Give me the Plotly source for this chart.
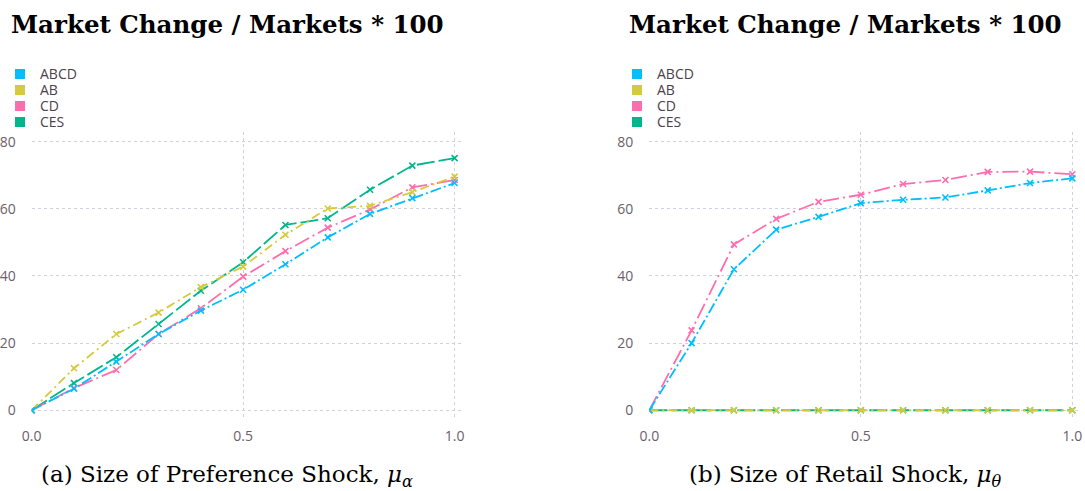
import plotly.graph_objects as go

# ---------------- data ----------------
x_vals = [0.0, 0.1, 0.2, 0.3, 0.4, 0.5, 0.6, 0.7, 0.8, 0.9, 1.0]
series_names = ["ABCD", "AB", "CD", "CES"]

# Panel (a): preference shock
pref_ABCD = [0.0, 6.4, 14.5, 22.7, 29.7, 35.9, 43.5, 51.5, 58.5, 63.2, 67.7]
pref_AB = [0.0, 12.5, 22.7, 29.1, 36.7, 42.8, 52.3, 60.1, 60.9, 65.0, 69.6]
pref_CD = [0.0, 6.6, 12.0, 22.7, 30.4, 39.8, 47.4, 54.4, 59.8, 66.4, 68.6]
pref_CES = [0.0, 8.1, 15.8, 25.7, 35.6, 44.1, 55.2, 57.2, 65.7, 72.9, 75.1]

# Panel (b): retail shock
ret_ABCD = [0.0, 20.0, 42.0, 53.8, 57.6, 61.7, 62.7, 63.4, 65.5, 67.7, 69.1]
ret_AB = [0.0, 0.0, 0.0, 0.0, 0.0, 0.0, 0.0, 0.0, 0.0, 0.0, 0.0]
ret_CD = [0.0, 23.8, 49.4, 57.0, 62.1, 64.2, 67.4, 68.6, 71.0, 71.1, 70.3]
ret_CES = [0.0, 0.0, 0.0, 0.0, 0.0, 0.0, 0.0, 0.0, 0.0, 0.0, 0.0]

y_ticks = [0, 20, 40, 60, 80]
x_ticks = [0.0, 0.5, 1.0]
x_tick_text = ["0.0", "0.5", "1.0"]

panel_title = "Market Change / Markets * 100"
caption_a = "(a) Size of Preference Shock, <i>μ</i><sub><i>α</i></sub>"
caption_b = "(b) Size of Retail Shock, <i>μ</i><sub><i>θ</i></sub>"

# ---------------- styling ----------------
colors = {"ABCD": "#00BFFF", "AB": "#D4CA3A", "CD": "#FF6DAE", "CES": "#00B78D"}
dashes = {
    "ABCD": "11px,3px,2px,3px",
    "AB": "9px,4px,2px,4px",
    "CD": "16px,4px,2px,4px",
    "CES": "18px,4px",
}
GRID = "#D0D0E0"
TICK_COL = "#6C606B"
KEY_COL = "#4C404B"

W, H = 1085, 491


def px_x(sx):
    return sx / W


def px_y(sy):
    return 1 - sy / H


panels = [
    dict(xa="x", ya="y", data={"ABCD": pref_ABCD, "AB": pref_AB, "CD": pref_CD, "CES": pref_CES}),
    dict(xa="x2", ya="y2", data={"ABCD": ret_ABCD, "AB": ret_AB, "CD": ret_CD, "CES": ret_CES}),
]

fig = go.Figure()

draw_order = ["CES", "CD", "AB", "ABCD"]
for p in panels:
    for name in draw_order:
        fig.add_trace(go.Scatter(
            x=x_vals, y=p["data"][name], xaxis=p["xa"], yaxis=p["ya"],
            mode="lines+markers", name=name, showlegend=False,
            line=dict(color=colors[name], width=1.8, dash=dashes[name]),
            marker=dict(symbol="x-thin", size=6, line=dict(color=colors[name], width=1.6)),
            hoverinfo="x+y+name",
        ))

# legend entries: one legend per key row for exact spacing (screen px)
leg_left_px = [0, 617]
row_y_px = [74.3, 90.3, 106.3, 122.3]
lk = 0
layout_legends = {}
for pi, p in enumerate(panels):
    for ri, name in enumerate(series_names):
        lk += 1
        lname = "legend" if lk == 1 else f"legend{lk}"
        fig.add_trace(go.Scatter(
            x=[None], y=[None], xaxis=p["xa"], yaxis=p["ya"],
            mode="markers", name=name, legend=lname, showlegend=True,
            marker=dict(symbol="square", size=10, color=colors[name]),
        ))
        layout_legends[lname] = dict(
            x=px_x(leg_left_px[pi]), xanchor="left",
            y=px_y(row_y_px[ri]), yanchor="middle",
            bgcolor="rgba(0,0,0,0)", borderwidth=0,
            font=dict(family="Open Sans", size=14, color=KEY_COL),
            itemwidth=30, tracegroupgap=0,
        )

x_dom = [[px_x(31.7), px_x(463.3)], [px_x(649.3), px_x(1081.0)]]
y_dom = [px_y(418.3), px_y(132.0)]

axis_common = dict(
    showgrid=True, gridcolor=GRID, griddash="3px,3px", gridwidth=1,
    zeroline=False, showline=False, ticks="", automargin=False,
    tickfont=dict(family="Open Sans", size=14, color=TICK_COL),
)

fig.update_layout(
    width=W, height=H,
    margin=dict(l=0, r=0, t=0, b=0, autoexpand=False),
    paper_bgcolor="white", plot_bgcolor="white",
    xaxis=dict(domain=x_dom[0], range=[0, 1.0205], tickvals=x_ticks, ticktext=x_tick_text,
               anchor="y", ticklabelstandoff=8, **axis_common),
    yaxis=dict(domain=y_dom, range=[-2.4, 82.9], tickvals=y_ticks, anchor="x",
               ticklabelstandoff=15, **axis_common),
    xaxis2=dict(domain=x_dom[1], range=[0, 1.0205], tickvals=x_ticks, ticktext=x_tick_text,
                anchor="y2", ticklabelstandoff=8, **axis_common),
    yaxis2=dict(domain=y_dom, range=[-2.4, 82.9], tickvals=y_ticks, anchor="x2",
                ticklabelstandoff=15, **axis_common),
    showlegend=True,
    **layout_legends,
)

annotations = []
for cx, cap in [(227, caption_a), (845, caption_b)]:
    annotations.append(dict(
        text="<b>" + panel_title + "</b>", x=px_x(cx), y=px_y(24),
        xref="paper", yref="paper", xanchor="center", yanchor="middle", showarrow=False,
        font=dict(family="DejaVu Serif", size=24.5, color="black"),
    ))
    annotations.append(dict(
        text=cap, x=px_x(cx), y=px_y(476),
        xref="paper", yref="paper", xanchor="center", yanchor="middle", showarrow=False,
        font=dict(family="DejaVu Serif", size=23, color="black"),
    ))
fig.update_layout(annotations=annotations)

fig.write_html(
    "out.html",
    config={"displayModeBar": False},
    post_script="document.body.style.margin='0';document.body.style.overflow='hidden';",
)
